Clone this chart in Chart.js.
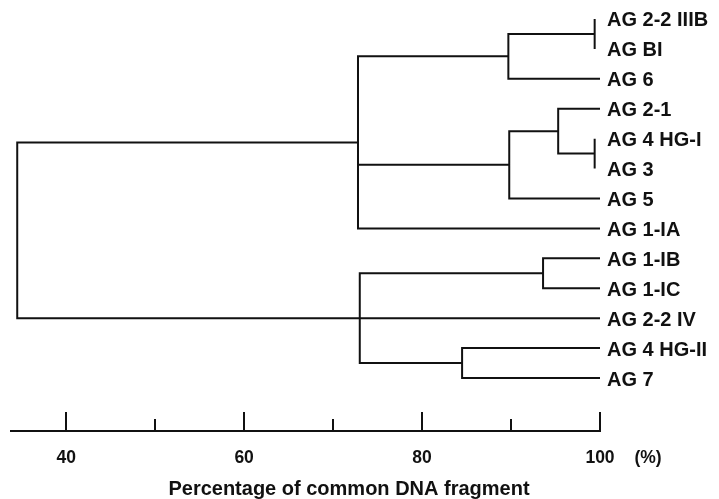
<!DOCTYPE html>
<html>
<head>
<meta charset="utf-8">
<script src="https://cdn.jsdelivr.net/npm/chart.js@4.4.1/dist/chart.umd.min.js"></script>
<style>
  html, body { margin: 0; padding: 0; background: #fff; }
  #wrap { width: 719px; height: 499px; }
</style>
</head>
<body>
<div id="wrap"><canvas id="dendro"></canvas></div>
<script>
// Leaves, top to bottom
const leaves = ['AG 2-2 IIIB', 'AG BI', 'AG 6', 'AG 2-1', 'AG 4 HG-I', 'AG 3', 'AG 5',
                'AG 1-IA', 'AG 1-IB', 'AG 1-IC', 'AG 2-2 IV', 'AG 4 HG-II', 'AG 7'];

// Clusters: 'L3' = leaf 3, 'C2' = cluster 2 (earlier in the list)
const clusterChildren = [
  ['L0', 'L1'],
  ['C0', 'L2'],
  ['L4', 'L5'],
  ['L3', 'C2'],
  ['C3', 'L6'],
  ['C1', 'C4', 'L7'],
  ['L8', 'L9'],
  ['L11', 'L12'],
  ['C6', 'L10', 'C7'],
  ['C5', 'C8']
];
// % of common DNA fragment where each cluster joins
const clusterLevels = [99.4, 89.7, 99.4, 95.3, 89.8, 72.8, 93.6, 84.5, 73.0, 34.5];
const leafLevel = 100;

const xTicks = [40, 50, 60, 70, 80, 90, 100];
const xTickLabels = ['40', '', '60', '', '80', '', '100'];
const xUnit = '(%)';
const xTitle = 'Percentage of common DNA fragment';

const ink = '#111';
const fontFamily = "'Liberation Sans', Arial, Helvetica, sans-serif";
Chart.defaults.font.family = fontFamily;
Chart.defaults.font.weight = 'bold';
Chart.defaults.color = ink;

// build the elbow lines from the tree
const clusterPos = [];
function nodeInfo(ref) {
  if (ref[0] === 'L') return { level: leafLevel, y: +ref.slice(1) };
  return clusterPos[+ref.slice(1)];
}
const points = [];
function addLine(pts) {
  if (points.length) points.push({ x: NaN, y: NaN });
  pts.forEach(p => points.push(p));
}
clusterChildren.forEach((kids, c) => {
  const h = clusterLevels[c];
  const info = kids.map(nodeInfo).sort((a, b) => a.y - b.y);
  // tiny stubs (identical leaves) are not drawn
  const ends = info.map(k => (k.level - h < 1 ? h : k.level));
  const first = info[0], last = info[info.length - 1];
  addLine([
    { x: ends[0], y: first.y }, { x: h, y: first.y },
    { x: h, y: last.y }, { x: ends[ends.length - 1], y: last.y }
  ]);
  for (let i = 1; i < info.length - 1; i++) {
    addLine([{ x: ends[i], y: info[i].y }, { x: h, y: info[i].y }]);
  }
  clusterPos.push({ level: h, y: (first.y + last.y) / 2 });
});

const tickFontSize = 17.5;
const tickPad = 17;

// tick marks point up from the axis, unit label and caption
const axisExtras = {
  id: 'axisExtras',
  afterDraw(chart) {
    const sx = chart.scales.x;
    const ctx = chart.ctx;
    ctx.save();
    ctx.strokeStyle = ink;
    ctx.lineWidth = 2;
    xTicks.forEach((v, i) => {
      const px = Math.round(sx.getPixelForValue(v));
      const len = xTickLabels[i] ? 19 : 12;
      ctx.beginPath();
      ctx.moveTo(px, sx.top);
      ctx.lineTo(px, sx.top - len);
      ctx.stroke();
    });
    ctx.fillStyle = ink;
    ctx.textAlign = 'center';
    ctx.textBaseline = 'middle';
    ctx.font = 'bold ' + tickFontSize + 'px ' + fontFamily;
    ctx.fillText(xUnit, sx.getPixelForValue(100) + 48, sx.top + tickPad + tickFontSize * 0.6);
    ctx.font = 'bold 20px ' + fontFamily;
    ctx.fillText(xTitle, sx.left + 338, sx.top + 58);
    ctx.restore();
  }
};

new Chart(document.getElementById('dendro'), {
  type: 'scatter',
  data: {
    datasets: [{
      data: points,
      showLine: true,
      spanGaps: false,
      borderColor: ink,
      borderWidth: 2,
      pointRadius: 0,
      pointHoverRadius: 0,
      fill: false
    }]
  },
  options: {
    responsive: true,
    maintainAspectRatio: false,
    animation: false,
    layout: { padding: { left: 11, right: 0, top: 4, bottom: 0 } },
    plugins: {
      legend: { display: false },
      tooltip: { enabled: false }
    },
    scales: {
      x: {
        type: 'linear',
        position: 'bottom',
        min: 33.8,
        max: 100,
        bounds: 'data',
        afterBuildTicks: s => { s.ticks = xTicks.map(v => ({ value: v })); },
        afterFit: s => { s.height = 68; s.paddingLeft = 0; s.paddingRight = 0; },
        grid: { display: false, drawTicks: false },
        border: { display: true, color: ink, width: 2 },
        ticks: {
          callback: (v, i) => xTickLabels[i],
          font: { size: tickFontSize },
          padding: tickPad,
          maxRotation: 0,
          autoSkip: false
        }
      },
      y: {
        type: 'linear',
        position: 'right',
        reverse: true,
        min: -0.5,
        max: 13.77,
        bounds: 'data',
        afterBuildTicks: s => { s.ticks = leaves.map((_, i) => ({ value: i })); },
        afterFit: s => { s.width = 119; s.paddingTop = 0; s.paddingBottom = 0; },
        grid: { display: false, drawTicks: false },
        border: { display: false },
        ticks: {
          callback: v => leaves[v],
          font: { size: 20 },
          padding: 7,
          labelOffset: 2,
          autoSkip: false
        }
      }
    }
  },
  plugins: [axisExtras]
});
</script>
</body>
</html>
